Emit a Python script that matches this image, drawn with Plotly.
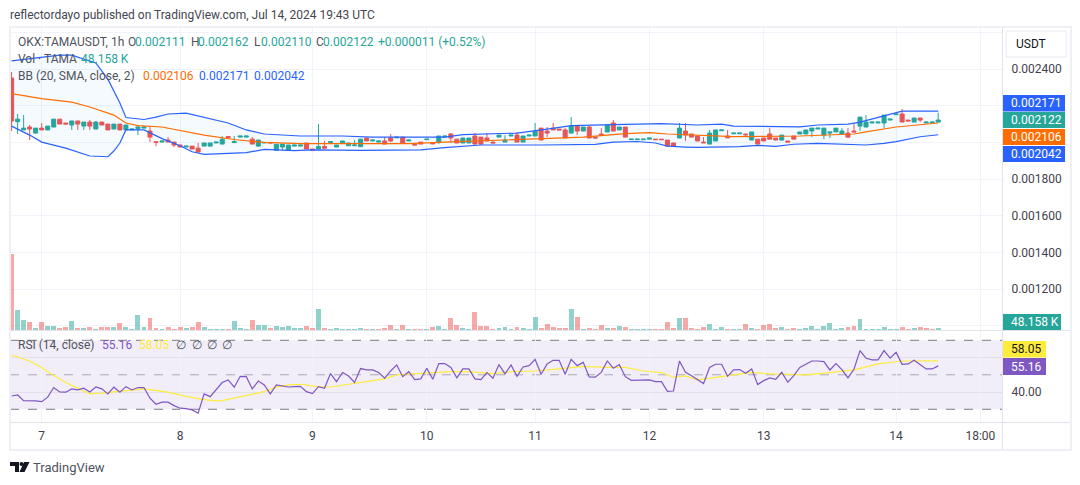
import plotly.graph_objects as go

# OHLC for OKX:TAMAUSDT, hourly bars, in millionths of USDT
opens = [2351,2113,2068,2084,2051,2078,2068,2084,2127,2106,2095,2117,2089,2111,2073,2111,2100,2073,2100,2068,
         2068,2075,2078,2062,2004,2002,2013,2002,1986,1975,1980,1969,1980,1980,1997,1991,2032,1999,2029,2029,
         2018,1980,1997,2000,1957,1975,1956,1980,1980,1997,1964,1964,1978,2000,1975,1997,1982,1982,1977,2024,
         2008,2002,2008,2024,2025,2029,2008,1991,2002,2015,1997,2002,2029,2046,2018,1997,1997,2035,2029,2024,
         2002,2029,2002,2035,2040,2002,2035,2035,2078,2062,2078,2073,2068,2051,2089,2062,2084,2029,2046,2057,
         2106,2068,2084,2015,2015,2015,2018,2018,2018,2013,1997,2024,2062,2046,2035,2002,1991,2008,2064,2035,
         2047,2047,2046,2013,2018,2024,2046,2024,2013,2008,2035,2046,2046,2062,2073,2040,2051,2057,2046,2051,
         2062,2089,2084,2106,2106,2106,2122,2151,2155,2122,2111,2133,2106,2106,2111]
highs = [2384,2155,2149,2095,2078,2106,2089,2127,2127,2106,2117,2117,2111,2122,2117,2111,2100,2100,2100,2095,
         2073,2095,2084,2084,2004,2008,2029,2002,1986,1980,1980,1997,1997,1997,2002,2035,2032,2035,2035,2035,
         2029,2013,2000,2000,1990,1991,1986,1986,1986,1997,1964,2100,2008,2005,1986,2008,1997,2013,2018,2024,
         2013,2008,2029,2046,2029,2029,2013,1991,2002,2018,1997,2035,2035,2051,2018,2024,2024,2051,2029,2051,
         2002,2040,2040,2040,2057,2035,2040,2106,2078,2084,2106,2073,2078,2138,2089,2084,2089,2029,2078,2095,
         2122,2084,2084,2018,2018,2018,2024,2018,2018,2013,1997,2106,2106,2046,2035,2029,2068,2068,2068,2068,
         2051,2051,2046,2057,2018,2024,2078,2024,2040,2008,2035,2057,2068,2078,2078,2078,2057,2078,2078,2078,
         2106,2138,2149,2111,2111,2149,2127,2155,2182,2122,2133,2133,2111,2111,2162]
lows = [2062,2046,2068,2013,2051,2068,2068,2084,2100,2100,2068,2068,2068,2068,2073,2095,2068,2073,2068,2068,
        2068,2040,2078,2002,1980,2002,2002,1975,1975,1975,1964,1948,1980,1980,1997,1991,2027,1999,2029,2029,
        1991,1975,1997,1997,1957,1959,1956,1980,1980,1964,1959,1964,1968,2000,1975,1997,1982,1982,1977,2008,
        2008,2002,1991,2002,2025,1997,2008,1986,1991,2015,1993,1991,2029,1997,1997,1997,1997,1991,1991,2008,
        1997,2029,2002,2035,2002,2002,2035,2035,2013,2029,2068,2068,2024,2051,2040,2062,2024,2024,2040,2057,
        2062,2068,2029,2015,2015,2015,2018,2015,2015,1980,1980,2024,2008,2029,2008,1998,1991,2008,2064,2025,
        2047,2047,2029,2013,1991,2008,2018,2013,2008,2002,2018,2046,2046,2029,2073,2018,2024,2057,2046,2024,
        2057,2062,2084,2106,2106,2078,2122,2151,2111,2117,2111,2111,2106,2106,2110]
closes = [2117,2127,2078,2073,2078,2068,2089,2127,2100,2100,2117,2100,2111,2089,2111,2095,2068,2100,2068,2095,
          2073,2084,2084,2029,2000,2008,2002,1986,1975,1980,1964,1948,1997,1997,2002,2018,2027,2004,2035,2035,
          1991,2013,2000,1997,1990,1991,1986,1986,1986,1964,1959,1978,1968,2005,1986,2008,1997,1986,2018,2008,
          2013,2008,1991,2008,2029,1997,2013,1986,1991,2018,1993,2035,2035,2024,1997,2024,2024,1991,1991,2008,
          1997,2040,2013,2040,2002,2035,2040,2062,2013,2051,2068,2068,2024,2089,2062,2084,2024,2024,2040,2095,
          2062,2084,2029,2018,2018,2018,2024,2015,2015,1980,1980,2078,2040,2029,2008,1998,2051,2068,2068,2025,
          2051,2051,2042,2057,1991,2008,2018,2013,2040,2002,2018,2057,2068,2078,2078,2078,2057,2078,2062,2029,
          2057,2138,2111,2111,2111,2149,2127,2155,2111,2117,2133,2122,2111,2111,2122]

# Volume in thousands of TAMA
volumes = [1824,480,240,192,60,192,96,96,60,84,216,60,60,84,36,84,84,84,168,84,36,360,84,288,60,36,84,36,84,60,
           84,192,84,36,36,36,36,216,60,36,240,120,120,60,96,84,96,60,60,96,60,504,60,36,60,36,36,24,60,36,
           36,36,60,132,36,132,36,36,36,36,84,108,36,300,132,60,36,444,108,108,36,60,84,36,84,60,36,324,60,156,
           84,60,60,516,324,36,60,36,132,60,60,108,84,36,36,36,36,36,36,204,60,300,300,60,36,84,144,24,72,36,
           36,36,144,48,36,120,144,48,72,36,48,36,48,96,36,96,168,36,48,72,96,264,36,36,36,72,36,36,72,36,48,72,48,36,48]
# Flat bars that the volume study still counts as down bars
flat_down_bars = [61, 152, 153]

# Bollinger Bands (20, SMA, close, 2): bar index and level in millionths of USDT
bb_upper_bars = [0,5,8,10,14,16,18,19,22,24,26,29,32,36,39,42,48,55,60,72,75,84,89,93,100,108,114,118,120,127,131,134,139,141,144,147,148,154]
bb_upper = [2444,2465,2476,2476,2433,2345,2215,2136,2125,2138,2155,2160,2138,2106,2068,2046,2035,2035,2029,2029,2043,2051,2073,2092,2097,2103,2095,2100,2089,2084,2085,2095,2100,2111,2138,2163,2171,2171]
bb_lower_bars = [0,3,5,9,13,16,17,18,19,22,25,28,30,32,39,42,47,50,58,68,72,78,88,97,100,104,107,109,112,114,121,124,127,130,134,139,142,145,147,151,154]
bb_lower = [2089,2040,2002,1969,1926,1922,1953,1997,2068,2068,2021,1982,1949,1935,1944,1962,1955,1959,1957,1959,1972,1986,1986,1989,2002,2005,1997,1980,1975,1973,1977,1984,1979,1990,1995,1990,1986,1995,2004,2031,2042]
bb_mid_bars = [0,5,10,13,17,19,21,25,32,37,42,48,58,66,72,82,88,95,102,106,109,113,120,131,140,142,147,154]
bb_mid = [2266,2239,2220,2193,2149,2106,2092,2084,2040,2016,2000,1994,1994,1994,2002,2013,2018,2029,2048,2053,2046,2040,2032,2035,2046,2058,2084,2106]

# RSI (14) for every bar, and its moving average read at bar indices
rsi_values = [37.7,38.3,35.0,35.0,34.8,34.4,37.0,42.6,40.0,39.9,41.8,41.2,42.2,40.0,42.9,41.8,38.9,42.8,39.9,43.1,
              41.2,42.6,42.6,36.4,32.9,34.1,34.1,32.1,30.6,30.4,29.6,27.7,38.9,37.3,41.2,45.5,47.0,42.8,49.1,48.9,
              41.8,46.4,44.1,38.9,44.1,43.7,42.9,43.1,43.3,40.2,39.1,43.1,42.2,50.7,46.0,51.3,49.3,45.5,53.6,52.8,
              52.8,51.3,48.0,52.2,55.7,48.9,51.8,47.2,47.6,53.8,47.4,56.5,56.5,54.3,48.2,53.4,53.4,47.6,47.2,51.3,
              48.0,55.9,50.5,55.7,49.1,54.5,55.3,59.0,50.3,56.3,58.4,58.4,50.3,59.0,55.3,57.2,48.7,48.6,51.4,58.0,
              53.8,55.9,48.9,46.8,46.8,46.8,47.0,46.0,46.0,40.4,40.6,58.0,51.4,49.5,47.0,44.9,54.2,56.1,56.1,49.1,
              52.8,53.0,50.9,53.4,44.3,46.6,48.2,47.4,51.4,45.7,49.5,54.3,56.1,58.0,58.0,57.6,52.8,56.5,53.0,48.2,
              53.2,64.0,59.6,58.6,58.6,64.0,59.6,63.0,56.1,56.3,58.4,56.1,53.4,53.4,55.16]
rsi_ma_bars = [0,3,5,6,9,11,13,15,18,20,22,26,29,32,34,35,37,39,42,44,46,48,51,53,56,59,62,64,67,70,73,76,78,80,83,87,91,95,99,102,105,108,110,112,114,117,123,126,132,136,140,144,148,154]
rsi_ma = [61.5,58.0,54.2,51.8,45.5,42.2,38.9,39.3,40.2,41.2,41.8,39.9,37.5,35.6,34.8,35.0,36.4,38.1,40.2,42.8,44.1,44.5,43.1,42.9,44.5,45.8,47.6,49.9,50.5,50.9,51.8,51.8,51.1,50.7,51.8,52.2,53.4,54.9,54.3,54.3,52.2,51.3,48.6,49.3,47.0,48.6,51.4,50.5,49.9,51.3,52.8,56.3,58.0,58.05]

# Axis ticks; levels hidden behind the last-value tags keep their grid line but no label
day_bars = [5, 28, 50, 69, 87, 106, 125, 147, 161]
day_labels = ["7", "8", "9", "10", "11", "12", "13", "14", "18:00"]
price_ticks = [2600, 2400, 2200, 2000, 1800, 1600, 1400, 1200, 1000]
price_tick_labels = ["", "0.002400", "", "", "0.001800", "0.001600", "0.001400", "0.001200", ""]
rsi_ticks = [40, 60]
rsi_tick_labels = ["40.00", ""]

UP = "#26a69a"
DOWN = "#ef5350"
BLUE = "#2962ff"
ORANGE = "#ff6d00"
PURPLE = "#7e57c2"
YELLOW = "#ffeb3b"
GRID = "#f0f3fa"
BORDER = "#e0e3eb"
TEXT = "#50535e"
TICK_TEXT = "#3f424d"
FONT = "Roboto"

WIDTH, HEIGHT = 1080, 485
LEFT, RIGHT, TOP, BOTTOM = 10, 1002, 27, 422
BAR0_PX, BAR_STEP_PX = 11.6, 6.017
UNIT = 1e-6


def px(x):
    return (x - LEFT) / (RIGHT - LEFT)


def py(y):
    return (BOTTOM - y) / (BOTTOM - TOP)


def scaled(values):
    return [v * UNIT for v in values]


bars = list(range(len(closes)))
x_range = [(LEFT - BAR0_PX) / BAR_STEP_PX, (RIGHT - BAR0_PX) / BAR_STEP_PX]

fig = go.Figure()

# Band fill goes underneath the candles
fig.add_trace(go.Scatter(x=bb_upper_bars, y=scaled(bb_upper), mode="lines",
                         line=dict(color=BLUE, width=1.2), hoverinfo="skip"))
fig.add_trace(go.Scatter(x=bb_lower_bars, y=scaled(bb_lower), mode="lines",
                         line=dict(color=BLUE, width=1.2), fill="tonexty",
                         fillcolor="rgba(33,150,243,0.05)", hoverinfo="skip"))
fig.add_trace(go.Scatter(x=bb_mid_bars, y=scaled(bb_mid), mode="lines",
                         line=dict(color=ORANGE, width=1.2), hoverinfo="skip"))

fig.add_trace(go.Candlestick(
    x=bars, open=scaled(opens), high=scaled(highs), low=scaled(lows), close=scaled(closes),
    increasing=dict(line=dict(color=UP, width=1), fillcolor=UP),
    decreasing=dict(line=dict(color=DOWN, width=1), fillcolor=DOWN),
    whiskerwidth=0,
))

vol_colors = [
    "rgba(239,83,80,0.5)" if (c < o or i in flat_down_bars) else "rgba(38,166,154,0.5)"
    for i, (o, c) in enumerate(zip(opens, closes))
]
fig.add_trace(go.Bar(x=bars, y=volumes, marker=dict(color=vol_colors, line_width=0),
                     width=0.82, yaxis="y3", hoverinfo="skip"))

# RSI pane
fig.add_trace(go.Scatter(x=rsi_ma_bars, y=rsi_ma, mode="lines", xaxis="x2", yaxis="y2",
                         line=dict(color=YELLOW, width=1.2), hoverinfo="skip"))
fig.add_trace(go.Scatter(x=bars, y=rsi_values, mode="lines", xaxis="x2", yaxis="y2",
                         line=dict(color=PURPLE, width=1.2), hoverinfo="skip"))

shapes = []


def chrome_rect(x0, y0, x1, y1, color):
    shapes.append(dict(type="rect", xref="paper", yref="paper", x0=px(x0), x1=px(x1),
                       y0=py(y1), y1=py(y0), fillcolor=color, line_width=0, layer="above"))


def chrome_line(x0, y0, x1, y1, color):
    shapes.append(dict(type="line", xref="paper", yref="paper", x0=px(x0), x1=px(x1),
                       y0=py(y0), y1=py(y1), line=dict(color=color, width=1), layer="above"))


# RSI 30-70 background and its dashed levels
shapes.append(dict(type="rect", xref="x2", yref="y2", x0=x_range[0], x1=x_range[1], y0=30, y1=70,
                   fillcolor="rgba(126,87,194,0.1)", line_width=0, layer="below"))
for level in (70, 50, 30):
    shapes.append(dict(type="line", xref="x2", yref="y2", x0=x_range[0], x1=x_range[1], y0=level, y1=level,
                       line=dict(color="#787b86", width=1, dash="dash"),
                       opacity=1 if level != 50 else 0.6, layer="below"))

# Outer frame and pane separators
for rect in [(9, 26, 1072, 28), (9, 449, 1072, 451), (9, 26, 11, 451), (1070, 26, 1072, 451)]:
    chrome_rect(*rect, "#eef0f5")
chrome_line(1002.5, 28, 1002.5, 449, BORDER)
chrome_line(10, 330.5, 1070, 330.5, BORDER)
chrome_line(10, 422.5, 1070, 422.5, BORDER)

# Scale selector box
shapes.append(dict(type="rect", xref="paper", yref="paper", x0=px(1006), x1=px(1066), y0=py(57), y1=py(31),
                   fillcolor="white", line=dict(color="#e8eaf0", width=1), layer="above"))

annotations = []


def label(x, y, text, color=TEXT, size=12, anchor="left"):
    annotations.append(dict(xref="paper", yref="paper", x=px(x), y=py(y), text=text, showarrow=False,
                            xanchor=anchor, yanchor="middle", xshift=-1, borderpad=0,
                            font=dict(color=color, size=size, family=FONT)))


def tag(y0, y1, x1, text, fill, color="white"):
    chrome_rect(1003, y0, x1, y1, fill)
    label(1011, (y0 + y1) / 2, text, color=color)


# Last-value tags on the scale
tag(95, 111.5, 1065, "0.002171", BLUE)
tag(112, 128, 1065, "0.002122", UP)
tag(129, 145, 1065, "0.002106", ORANGE)
tag(146, 162, 1065, "0.002042", BLUE)
tag(314, 330, 1061, "48.158 K", UP)
tag(341, 357.5, 1046, "58.05", YELLOW, "#131722")
tag(358, 375, 1046, "55.16", PURPLE)
label(1016, 44, "USDT", color="#131722")

label(10, 15, "reflectordayo published on TradingView.com, Jul 14, 2024 19:43 UTC", color="#434651")

# Legend rows
label(18, 42, "OKX:TAMAUSDT, 1h")
for x, letter, value in [(128, "O", "0.002111"), (191, "H", "0.002162"), (254, "L", "0.002110"), (316, "C", "0.002122")]:
    label(x, 42, letter)
    label(x + 7, 42, value, color=UP)
label(378, 42, "+0.000011 (+0.52%)", color=UP)
label(18, 59, "Vol · TAMA")
label(81, 59, "48.158 K", color=UP)
label(18, 76, "BB (20, SMA, close, 2)")
label(143, 76, "0.002106", color=ORANGE)
label(199, 76, "0.002171", color=BLUE)
label(254, 76, "0.002042", color=BLUE)
label(18, 345, "RSI (14, close)")
label(102, 345, "55.16", color=PURPLE)
label(139, 345, "58.05", color=YELLOW)
for x in (176, 192, 207, 222):
    label(x, 345, "∅")

# Footer mark
label(33, 467, "TradingView", color=TEXT, size=13)
shapes.append(dict(type="path", xref="paper", yref="paper", fillcolor="#131722", line_width=0, layer="above",
                   path=(f"M {px(10)} {py(462)} L {px(19)} {py(462)} L {px(19)} {py(472)} L {px(15)} {py(472)} "
                         f"L {px(15)} {py(466)} L {px(10)} {py(466)} Z "
                         f"M {px(24)} {py(462)} L {px(29.5)} {py(462)} L {px(24.5)} {py(472)} L {px(19.5)} {py(472)} Z")))
shapes.append(dict(type="circle", xref="paper", yref="paper", fillcolor="#131722", line_width=0, layer="above",
                   x0=px(19.5), x1=px(23.5), y0=py(466), y1=py(462)))

fig.update_layout(
    width=WIDTH, height=HEIGHT,
    margin=dict(l=LEFT, r=WIDTH - RIGHT, t=TOP, b=HEIGHT - BOTTOM, pad=0),
    paper_bgcolor="white", plot_bgcolor="white",
    showlegend=False, bargap=0, boxgap=0.33, boxgroupgap=0,
    font=dict(family=FONT, size=12, color=TEXT),
    shapes=shapes, annotations=annotations,
    xaxis=dict(domain=[0, 1], range=x_range, anchor="y", rangeslider=dict(visible=False),
               tickvals=day_bars, showticklabels=False, ticks="", showgrid=True, gridcolor=GRID,
               zeroline=False, showline=False),
    xaxis2=dict(domain=[0, 1], range=x_range, anchor="y2", tickvals=day_bars, ticktext=day_labels,
                ticks="outside", ticklen=3, tickcolor="rgba(0,0,0,0)", tickfont=dict(color=TICK_TEXT, size=12),
                showgrid=True, gridcolor=GRID, zeroline=False, showline=False),
    yaxis=dict(domain=[py(330), 1], range=[978 * UNIT, 2629 * UNIT], side="right", anchor="x",
               tickvals=scaled(price_ticks), ticktext=price_tick_labels, ticks="outside", ticklen=6,
               tickcolor="rgba(0,0,0,0)", tickfont=dict(color=TICK_TEXT, size=12),
               showgrid=True, gridcolor=GRID, zeroline=False, showline=False),
    yaxis3=dict(domain=[py(330), 1], range=[0, 7272], overlaying="y", side="left", visible=False),
    yaxis2=dict(domain=[0, py(331)], range=[22.6, 75.4], side="right", anchor="x2",
                tickvals=rsi_ticks, ticktext=rsi_tick_labels, ticks="outside", ticklen=6,
                tickcolor="rgba(0,0,0,0)", tickfont=dict(color=TICK_TEXT, size=12),
                showgrid=True, gridcolor="rgba(120,123,134,0.12)", zeroline=False, showline=False),
)

fig.write_html("out.html")
